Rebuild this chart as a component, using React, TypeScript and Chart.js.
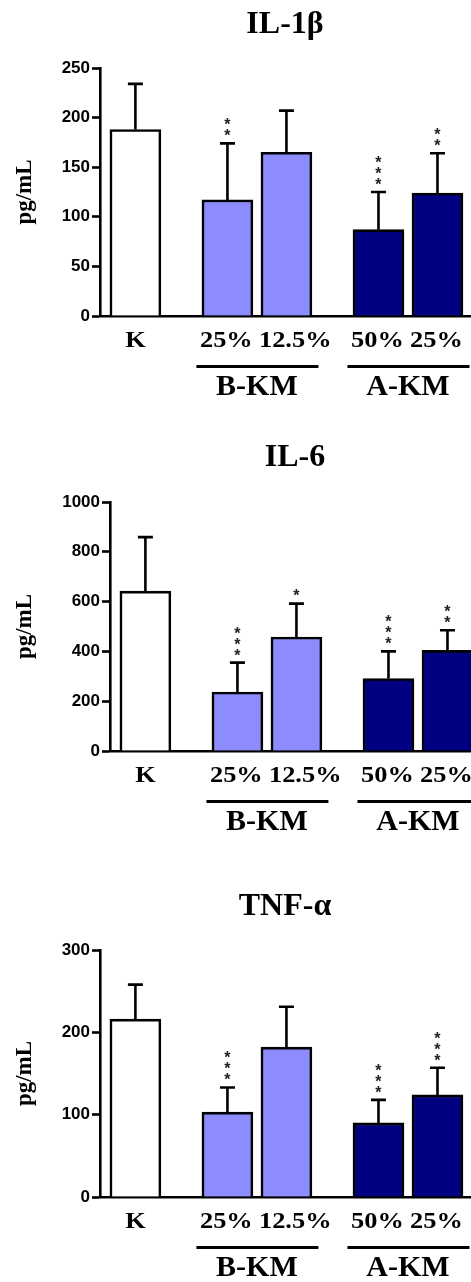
import React, { useEffect, useRef } from "react";
import { Chart, registerables } from "chart.js";

Chart.register(...registerables);

// ---- data ----
const categories = ["K", "25%", "12.5%", "50%", "25%"];
const groupLabels = ["B-KM", "A-KM"];
const groupOfBar = [-1, 0, 0, 1, 1];

const il1bMeans = [188, 117, 165, 87, 124];
const il1bSd = [46, 57, 42, 38, 40];
const il1bStars = ["", "**", "", "***", "**"];
const il1bTicks = [0, 50, 100, 150, 200, 250];

const il6Means = [642, 237, 458, 291, 404];
const il6Sd = [217, 118, 134, 109, 81];
const il6Stars = ["", "***", "*", "***", "**"];
const il6Ticks = [0, 200, 400, 600, 800, 1000];

const tnfMeans = [216, 103, 182, 90, 124];
const tnfSd = [42, 30, 49, 28, 33];
const tnfStars = ["", "***", "", "***", "***"];
const tnfTicks = [0, 100, 200, 300];

const yTitle = "pg/mL";

// ---- styling / layout ----
const barColors = ["#FFFFFF", "#8C8CFF", "#8C8CFF", "#000080", "#000080"];
const UNIT_PX = 59;
const GROUP_GAP = 1.56;
const X_MIN = -0.6;
const W = 471;
const LW = 2.6;
const BAR_W = 51;

function barPositions(): number[] {
  const pos: number[] = [];
  let p = 0;
  for (let i = 0; i < categories.length; i++) {
    if (i > 0) p += groupOfBar[i] === groupOfBar[i - 1] ? 1 : GROUP_GAP;
    pos.push(p);
  }
  return pos;
}

type PanelProps = {
  title: string;
  means: number[];
  sd: number[];
  stars: string[];
  ticks: number[];
  height: number;
  axisX: number;
  plotTop: number;
  plotBottom: number;
  titleY: number;
};

function Panel(props: PanelProps) {
  const ref = useRef<HTMLCanvasElement | null>(null);
  useEffect(() => {
    const { title, means, sd, stars, ticks, height, axisX, plotTop, plotBottom, titleY } = props;
    const pos = barPositions();
    const xMax = X_MIN + (W - axisX) / UNIT_PX;

    const overlay = {
      id: "overlay",
      afterDraw(chart: any) {
        const ctx = chart.ctx;
        const xs = chart.scales.x;
        const ys = chart.scales.y;
        const area = chart.chartArea;
        ctx.save();
        // error bars
        ctx.strokeStyle = "#000";
        ctx.lineWidth = LW;
        for (let i = 0; i < means.length; i++) {
          const cx = xs.getPixelForValue(pos[i]);
          const y0 = ys.getPixelForValue(means[i]);
          const y1 = ys.getPixelForValue(means[i] + sd[i]);
          ctx.beginPath();
          ctx.moveTo(cx, y0);
          ctx.lineTo(cx, y1);
          ctx.moveTo(cx - 7.5, y1);
          ctx.lineTo(cx + 7.5, y1);
          ctx.stroke();
          // stars
          const s = stars[i];
          ctx.fillStyle = "#222";
          ctx.font = "bold 16px 'Liberation Sans'";
          ctx.textAlign = "center";
          ctx.textBaseline = "middle";
          for (let k = 0; k < s.length; k++) {
            ctx.fillText("*", cx, y1 - 10 - k * 11 + 3.5);
          }
        }
        ctx.fillStyle = "#000";
        // title
        ctx.font = "bold 32px 'Liberation Serif'";
        ctx.textAlign = "center";
        ctx.textBaseline = "middle";
        ctx.fillText(title, area.left + 185, titleY);
        // y title
        ctx.save();
        ctx.translate(25, (area.top + area.bottom) / 2);
        ctx.rotate(-Math.PI / 2);
        ctx.font = "bold 23px 'Liberation Serif'";
        ctx.fillText(yTitle, 0, 0);
        ctx.restore();
        // x labels
        ctx.font = "bold 24px 'Liberation Serif'";
        for (let i = 0; i < categories.length; i++) {
          const cx = xs.getPixelForValue(pos[i]);
          ctx.save();
          if (groupOfBar[i] < 0) {
            ctx.textAlign = "center";
            ctx.translate(cx, area.bottom + 25);
          } else {
            ctx.textAlign = "left";
            ctx.translate(cx - BAR_W / 2 - 2, area.bottom + 25);
          }
          ctx.scale(1.1, 1);
          ctx.fillText(categories[i], 0, 0);
          ctx.restore();
        }
        // group lines + labels
        ctx.textAlign = "center";
        for (let g = 0; g < groupLabels.length; g++) {
          const idx = groupOfBar.map((v, i) => (v === g ? i : -1)).filter((i) => i >= 0);
          const xa = xs.getPixelForValue(pos[idx[0]]);
          const xb = xs.getPixelForValue(pos[idx[idx.length - 1]]);
          ctx.lineWidth = 3;
          ctx.beginPath();
          ctx.moveTo(xa - 31, area.bottom + 50.5);
          ctx.lineTo(xb + 32, area.bottom + 50.5);
          ctx.stroke();
          ctx.font = "bold 30px 'Liberation Serif'";
          ctx.fillText(groupLabels[g], (xa + xb) / 2, area.bottom + 71);
        }
        ctx.restore();
      },
    };

    const chart = new Chart(ref.current as HTMLCanvasElement, {
      type: "bar",
      data: {
        datasets: [
          {
            data: means.map((m, i) => ({ x: pos[i], y: m })),
            backgroundColor: barColors,
            borderColor: "#000",
            borderWidth: LW,
            barThickness: BAR_W,
          } as any,
        ],
      },
      options: {
        animation: false,
        responsive: false,
        devicePixelRatio: 1,
        layout: { padding: { top: plotTop, left: 0, right: 0, bottom: height - plotBottom } },
        plugins: { legend: { display: false }, tooltip: { enabled: false }, title: { display: false } },
        scales: {
          x: {
            type: "linear",
            min: X_MIN,
            max: xMax,
            offset: false,
            grid: { display: false },
            ticks: { display: false },
            border: { display: true, color: "#000", width: LW },
            afterFit: (s: any) => {
              s.height = 0;
            },
          },
          y: {
            min: ticks[0],
            max: ticks[ticks.length - 1],
            afterBuildTicks: (s: any) => {
              s.ticks = ticks.map((v) => ({ value: v }));
            },
            ticks: {
              color: "#000",
              padding: 2,
              font: { family: "'Liberation Sans'", size: 17, weight: "bold" },
              callback: (v: any) => String(v),
            },
            grid: {
              drawOnChartArea: false,
              drawTicks: true,
              tickLength: 8,
              tickWidth: LW,
              tickColor: "#000",
            },
            border: { display: true, color: "#000", width: LW },
            afterFit: (s: any) => {
              s.width = axisX;
            },
          },
        },
      } as any,
      plugins: [overlay],
    });
    return () => chart.destroy();
  }, []);
  return (
    <div style={{ position: "relative", width: W, height: props.height }}>
      <canvas ref={ref} width={W} height={props.height} style={{ display: "block" }} />
    </div>
  );
}

export default function App() {
  return (
    <div style={{ position: "absolute", left: 0, top: 0, width: W, height: 1282, background: "#fff", overflow: "hidden" }}>
      <Panel title="IL-1β" means={il1bMeans} sd={il1bSd} stars={il1bStars} ticks={il1bTicks}
        height={430} axisX={100} plotTop={68} plotBottom={316} titleY={25} />
      <Panel title="IL-6" means={il6Means} sd={il6Sd} stars={il6Stars} ticks={il6Ticks}
        height={430} axisX={110} plotTop={72} plotBottom={321} titleY={28} />
      <Panel title="TNF-α" means={tnfMeans} sd={tnfSd} stars={tnfStars} ticks={tnfTicks}
        height={422} axisX={100} plotTop={90} plotBottom={337} titleY={47} />
    </div>
  );
}
